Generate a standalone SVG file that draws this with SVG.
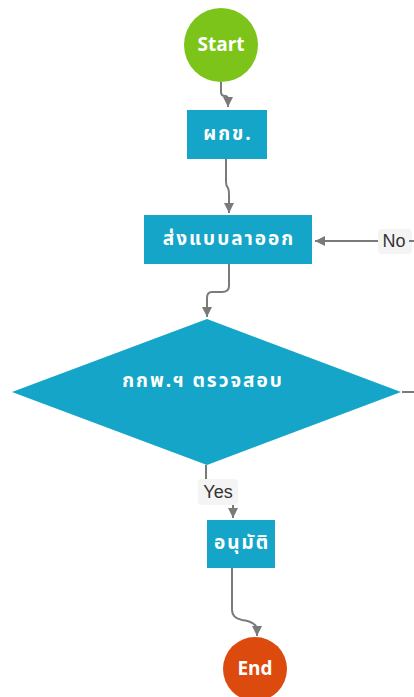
<svg xmlns="http://www.w3.org/2000/svg" width="414" height="697" viewBox="0 0 414 697">
<defs>
<style>
.node{fill:#14a5c9}
.t{font-family:"Noto Sans Thai","Liberation Sans","DejaVu Sans",sans-serif;font-weight:bold;fill:#fff;text-anchor:middle;dominant-baseline:central}
.th{font-size:19px;letter-spacing:2px}
.c{fill:none;stroke:#7a7a7a;stroke-width:2}
.lbl{font-family:"Liberation Sans",Arial,sans-serif;font-size:18px;fill:#333;text-anchor:middle;dominant-baseline:central}
.lb{fill:#f4f4f4}
</style>
<marker id="ah" viewBox="0 0 10 10" refX="10" refY="5" markerWidth="5" markerHeight="5" orient="auto" markerUnits="strokeWidth">
<path d="M0,0 L10,5 L0,10 Z" fill="#7a7a7a"/>
</marker>
</defs>
<rect width="414" height="697" fill="#fff"/>
<g id="connectors">
<path class="c" d="M221,82 L221,92 Q221,96 225,96 Q228,96 228,100 L228,107" marker-end="url(#ah)"/>
<path class="c" d="M226,159 L226,182 Q226,186 228,188 Q229,190 229,194 L229,213" marker-end="url(#ah)"/>
<path class="c" d="M229,264 L229,286 Q229,292 222,292 L212,292 Q207,292 207,298 L207,317" marker-end="url(#ah)"/>
<path class="c" d="M402,392 L424,392 L424,241 L315,241" marker-end="url(#ah)"/>
<path class="c" d="M206,465 L206,486 Q206,490 212,490 L228,490 Q233,490 233,496 L233,518" marker-end="url(#ah)"/>
<path class="c" d="M232,568 L232,610 Q232,618 242,620 Q257,622 257,630 L257,636" marker-end="url(#ah)"/>
<rect class="lb" x="378" y="229" width="34" height="25" rx="4"/>
<text class="lbl" x="394" y="241">No</text>
<line x1="409" y1="241" x2="414" y2="241" stroke="#7a7a7a" stroke-width="2"/>
<rect class="lb" x="198" y="479" width="40" height="26" rx="4"/>
<text class="lbl" x="218" y="492">Yes</text>
</g>
<g id="start">
<circle cx="221" cy="45" r="37" fill="#7dc41a"/>
<text class="t" x="221" y="45" font-size="19">Start</text>
</g>
<g id="n1">
<rect class="node" x="187" y="110" width="80" height="49"/>
<text class="t th" x="228" y="134">ผกข.</text>
</g>
<g id="n2">
<rect class="node" x="144" y="215" width="168" height="49"/>
<text class="t th" x="229" y="239">ส่งแบบลาออก</text>
</g>
<g id="decision">
<polygon class="node" points="207,319 401,392 207,465 12,392"/>
<text class="t th" x="203" y="381">กกพ.ฯ ตรวจสอบ</text>
</g>
<g id="n3">
<rect class="node" x="207" y="520" width="68" height="48"/>
<text class="t th" x="242" y="543">อนุมัติ</text>
</g>
<g id="end">
<circle cx="255" cy="669" r="32" fill="#dc4a0e"/>
<text class="t" x="255" y="669" font-size="19">End</text>
</g>
</svg>
